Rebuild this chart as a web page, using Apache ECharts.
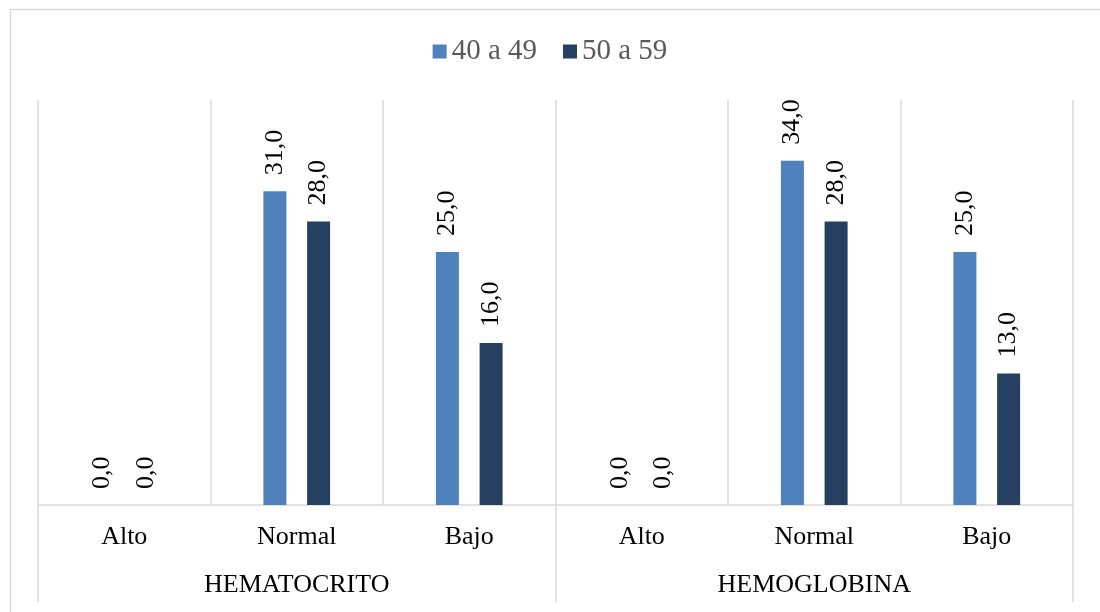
<!DOCTYPE html>
<html>
<head>
<meta charset="utf-8">
<script src="https://cdn.jsdelivr.net/npm/echarts@6/dist/echarts.min.js"></script>
<style>
  html, body { margin: 0; padding: 0; background: #fff; }
  #chart { width: 1100px; height: 612px; }
</style>
</head>
<body>
<div id="chart"></div>
<script>
const categories = ['Alto', 'Normal', 'Bajo', 'Alto', 'Normal', 'Bajo']
const groups = ['HEMATOCRITO', 'HEMOGLOBINA']
const seriesNames = ['40 a 49', '50 a 59']
const values4049 = [0, 31, 25, 0, 34, 25]
const values5059 = [0, 28, 16, 0, 28, 13]

const serif = "'Liberation Serif', 'Times New Roman', serif"
const gridColor = '#d9d9d9'

const chart = echarts.init(document.getElementById('chart'))

const barLabel = {
  show: true,
  position: 'top',
  rotate: 90,
  align: 'left',
  verticalAlign: 'middle',
  distance: 16,
  fontFamily: serif,
  fontSize: 26,
  color: '#000',
  // decimal comma like the original
  formatter: (p) => p.value.toFixed(1).replace('.', ',')
}

chart.setOption({
  animation: false,
  color: ['#4f81bd', '#264061'],
  graphic: [
    {
      type: 'rect',
      left: 8,
      top: 7,
      shape: { width: 1200, height: 700 },
      style: { fill: 'none', stroke: gridColor, lineWidth: 1.5 },
      silent: true
    }
  ],
  legend: {
    top: 32,
    left: 'center',
    itemWidth: 14,
    itemHeight: 14,
    itemGap: 26,
    icon: 'rect',
    textStyle: { fontFamily: serif, fontSize: 29, color: '#595959' },
    data: seriesNames
  },
  grid: {
    left: 38,
    right: 27,
    top: 100,
    bottom: 107,
    containLabel: false
  },
  xAxis: [
    {
      type: 'category',
      position: 'bottom',
      data: categories,
      axisLine: { show: true, lineStyle: { color: gridColor, width: 1.5 } },
      axisTick: { show: false },
      splitLine: { show: true, lineStyle: { color: gridColor, width: 1.5 } },
      axisLabel: { margin: 19, fontFamily: serif, fontSize: 26, color: '#000' }
    },
    {
      type: 'category',
      position: 'bottom',
      data: groups,
      axisLine: { show: false },
      axisTick: { show: true, length: 97, lineStyle: { color: gridColor, width: 1.5 } },
      splitLine: { show: false },
      axisLabel: { margin: 67, fontFamily: serif, fontSize: 26, color: '#000' }
    }
  ],
  yAxis: {
    type: 'value',
    min: 0,
    max: 40,
    show: false,
    splitLine: { show: false }
  },
  series: [
    {
      name: seriesNames[0],
      type: 'bar',
      xAxisIndex: 0,
      barWidth: 23,
      barGap: '90%',
      data: values4049,
      label: barLabel
    },
    {
      name: seriesNames[1],
      type: 'bar',
      xAxisIndex: 0,
      barWidth: 23,
      barGap: '90%',
      data: values5059,
      label: barLabel
    }
  ]
})
</script>
</body>
</html>
